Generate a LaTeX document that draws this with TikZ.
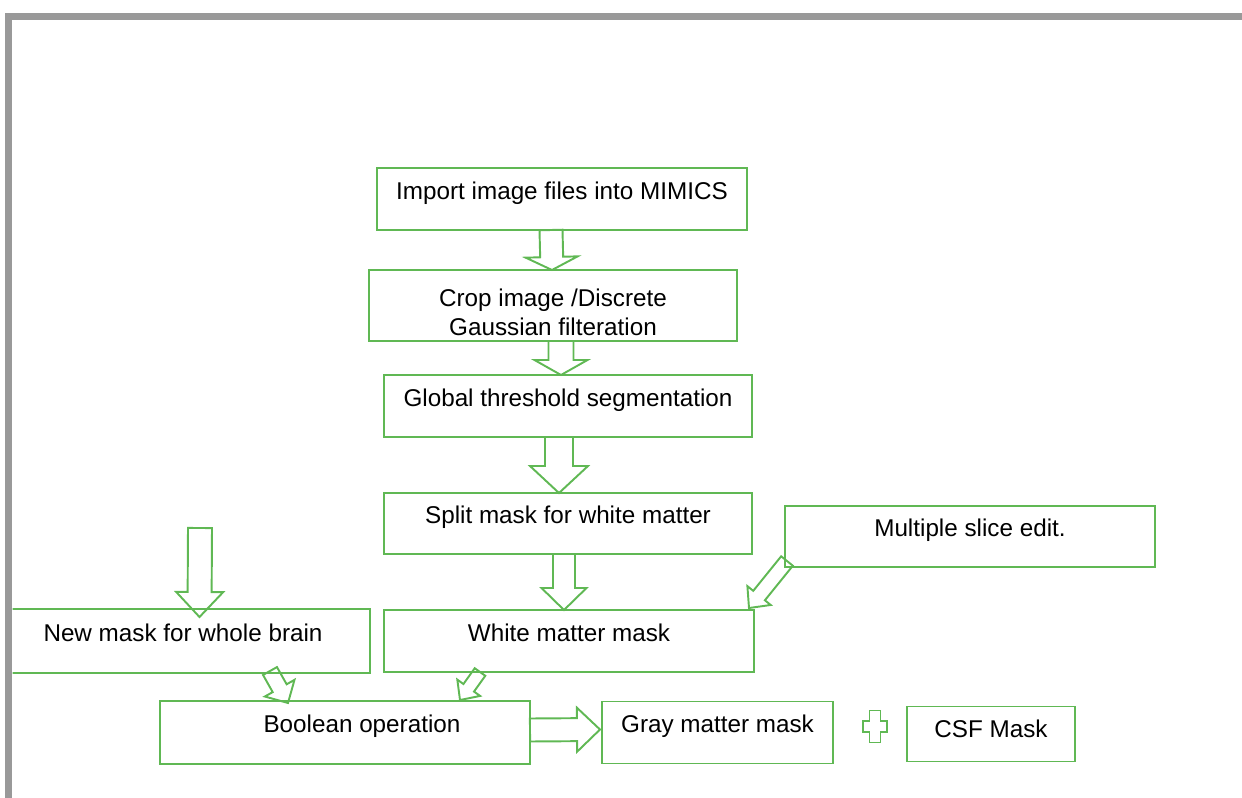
\documentclass[tikz,border=0pt]{standalone}
\usepackage{fontspec}
\setmainfont{Liberation Sans}
\usetikzlibrary{positioning,calc}

\definecolor{boxgreen}{RGB}{96,184,84}
\definecolor{framegray}{RGB}{153,153,153}

\tikzset{
  box/.style={draw=boxgreen, line width=1.1pt, rectangle, outer sep=0pt, minimum height=1.24cm,
    font=\fontsize{13.8}{16.5}\selectfont},
  lift/.style={text height=10pt, text depth=10pt},
  flow/.style={draw=boxgreen, line width=1.1pt},
  frame/.style={draw=framegray, line width=0.14cm}
}

% hollow block arrow: tail, tip, shaft half width, head half width, head length
\newcommand{\blockarrow}[5]{%
  \coordinate (ba_base) at ($(#2)!#5!(#1)$);
  \draw[flow] ($(#1)!#3!90:(#2)$) -- ($(ba_base)!#3!90:(#2)$) -- ($(ba_base)!#4!90:(#2)$) -- (#2)
    -- ($(ba_base)!#4!-90:(#2)$) -- ($(ba_base)!#3!-90:(#2)$) -- ($(#1)!#3!-90:(#2)$) -- cycle;}

\begin{document}
\begin{tikzpicture}
\useasboundingbox (0,0) rectangle (24.84,-15.96);
\begin{scope}
\clip (0.25,-0.39) rectangle (24.84,-15.96);

% main column
\node[box, lift, minimum width=7.4cm] (imp) at (11.24,-3.98) {Import image files into MIMICS};
\node[box, minimum width=7.36cm, minimum height=1.42cm, inner ysep=0pt, align=center, below=0.8cm of imp, xshift=-0.18cm] (crop)
  {\rule{0pt}{18pt}Crop image /Discrete\\Gaussian filteration};
\node[box, lift, minimum width=7.36cm, below=0.68cm of crop, xshift=0.3cm] (glob) {Global threshold segmentation};
\node[box, lift, minimum width=7.36cm, minimum height=1.22cm, below=1.12cm of glob] (split) {Split mask for white matter};
\node[box, lift, minimum width=7.4cm, below=1.12cm of split, xshift=0.02cm] (white) {White matter mask};

% side boxes
\node[box, lift, minimum width=7.4cm, minimum height=1.22cm, right=0.66cm of split, yshift=-0.26cm] (multi) {Multiple slice edit.};
\node[box, lift, minimum width=7.48cm, minimum height=1.28cm, left=0.28cm of white] (newm) {New mask for whole brain};

% bottom row
\node[box, lift, minimum width=7.4cm, minimum height=1.26cm, below=0.58cm of white, xshift=-4.48cm] (bool) {\hspace*{0.68cm}Boolean operation};
\node[box, lift, minimum width=4.62cm, right=1.44cm of bool] (graym) {Gray matter mask};
\node[box, lift, text depth=6pt, minimum width=3.36cm, minimum height=1.1cm, right=1.48cm of graym, yshift=-0.03cm] (csf) {CSF Mask};

% arrow ends
\coordinate (a1_tail) at ([xshift=-0.22cm]imp.south);
\coordinate (a1_tip) at ([xshift=-0.02cm]crop.north);
\coordinate (a2_tail) at ([xshift=0.16cm]crop.south);
\coordinate (a2_tip) at ([xshift=-0.14cm]glob.north);
\coordinate (a3_tail) at ([xshift=-0.18cm]glob.south);
\coordinate (a3_tip) at ([xshift=-0.18cm]split.north);
\coordinate (a4_tail) at ([xshift=-0.08cm]split.south);
\coordinate (a4_tip) at ([xshift=-0.1cm]white.north);
\coordinate (a5_tail) at ([xshift=0.04cm, yshift=0.12cm]multi.south west);
\coordinate (a5_tip) at ([xshift=-0.1cm, yshift=0.04cm]white.north east);
\coordinate (a6_tail) at ([xshift=-1.78cm]white.south);
\coordinate (a6_tip) at ([xshift=2.3cm, yshift=0.02cm]bool.north);
\coordinate (a7_tail) at ([xshift=1.74cm, yshift=0.04cm]newm.south);
\coordinate (a7_tip) at ([xshift=-1.14cm, yshift=-0.04cm]bool.north);
\coordinate (a8_tail) at ([xshift=0.34cm, yshift=1.62cm]newm.north);    % free end
\coordinate (a8_tip) at ([xshift=0.33cm, yshift=-0.16cm]newm.north);
\coordinate (a9_tail) at ([yshift=0.05cm]bool.east);
\coordinate (a9_tip) at ([xshift=-0.04cm, yshift=0.06cm]graym.west);
\coordinate (plus) at ([xshift=0.84cm, yshift=0.12cm]graym.east);

\blockarrow{a1_tail}{a1_tip}{0.23cm}{0.52cm}{0.26cm}
\blockarrow{a2_tail}{a2_tip}{0.25cm}{0.53cm}{0.3cm}
\blockarrow{a3_tail}{a3_tip}{0.28cm}{0.58cm}{0.54cm}
\blockarrow{a4_tail}{a4_tip}{0.22cm}{0.45cm}{0.44cm}
\blockarrow{a5_tail}{a5_tip}{0.15cm}{0.3cm}{0.32cm}
\blockarrow{a6_tail}{a6_tip}{0.13cm}{0.28cm}{0.3cm}
\blockarrow{a7_tail}{a7_tip}{0.16cm}{0.34cm}{0.34cm}
\blockarrow{a8_tail}{a8_tip}{0.24cm}{0.47cm}{0.5cm}
\blockarrow{a9_tail}{a9_tip}{0.23cm}{0.44cm}{0.46cm}

% plus sign
\draw[flow, shift={(plus)}] (-0.11,0.32) -- (0.11,0.32) -- (0.11,0.11) -- (0.24,0.11) -- (0.24,-0.11)
  -- (0.11,-0.11) -- (0.11,-0.32) -- (-0.11,-0.32) -- (-0.11,-0.11) -- (-0.24,-0.11) -- (-0.24,0.11)
  -- (-0.11,0.11) -- cycle;
\end{scope}

% window frame
\draw[frame] (0.18,-15.96) |- (24.84,-0.32);
\end{tikzpicture}
\end{document}
